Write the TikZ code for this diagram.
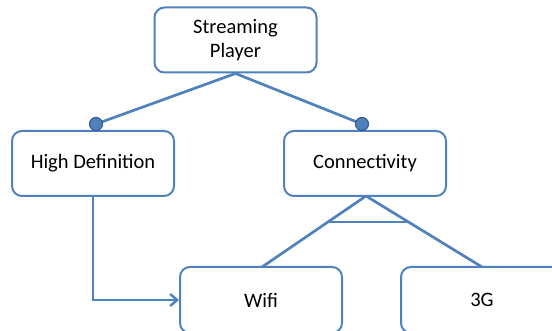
\documentclass[tikz,border=0pt]{standalone}
\usepackage{fontspec}
\setmainfont{Carlito}
\usetikzlibrary{arrows.meta,calc}
\definecolor{obox}{HTML}{4F81BD}
\definecolor{odark}{HTML}{385D8A}
\begin{document}
\begin{tikzpicture}[x=1pt,y=-1pt,
  feat/.style={draw=obox,line width=2pt,rounded corners=10pt,fill=white,
    minimum width=162pt,minimum height=65pt,inner sep=0pt,align=center,
    font=\fontsize{20.5pt}{24pt}\selectfont},
  conn/.style={draw=obox,line width=2.7pt},
  dotm/.style={circle,fill=obox,draw=odark,line width=1.2pt,inner sep=0pt,minimum size=13pt}]
\useasboundingbox (0,0) rectangle (552,331);
\node[feat] (sp) at (235.5,40) {\raisebox{-2.5pt}{Streaming}\\\raisebox{-2.5pt}{Player}};
\node[feat] (hd) at (93,163.5) {High Definition};
\node[feat] (cn) at (365,163.5) {Connectivity};
\node[feat,minimum height=66pt] (wf) at (261,300) {Wifi};
\node[feat,minimum height=66pt] (tg) at (482,300) {3G};
\coordinate (ldot) at (96,124);
\coordinate (rdot) at (362,124);
\draw[conn] (sp.south) -- (ldot);
\draw[conn] (sp.south) -- (rdot);
\node[dotm] (d1) at (ldot) {};
\node[dotm] (d2) at (rdot) {};
\coordinate (apex) at (366,196);
\coordinate (wtop) at (262,267);
\coordinate (ttop) at (482,267);
\draw[conn] (apex) -- (wtop);
\draw[conn] (apex) -- (ttop);
\draw[conn] ($(apex)!0.366!(wtop)$) -- ($(apex)!0.366!(ttop)$);
\draw[conn,line width=2.4pt,-{Straight Barb[length=7pt,width=12pt,line width=2.4pt]}] (hd.south) |- (wf.west);
\end{tikzpicture}
\end{document}
